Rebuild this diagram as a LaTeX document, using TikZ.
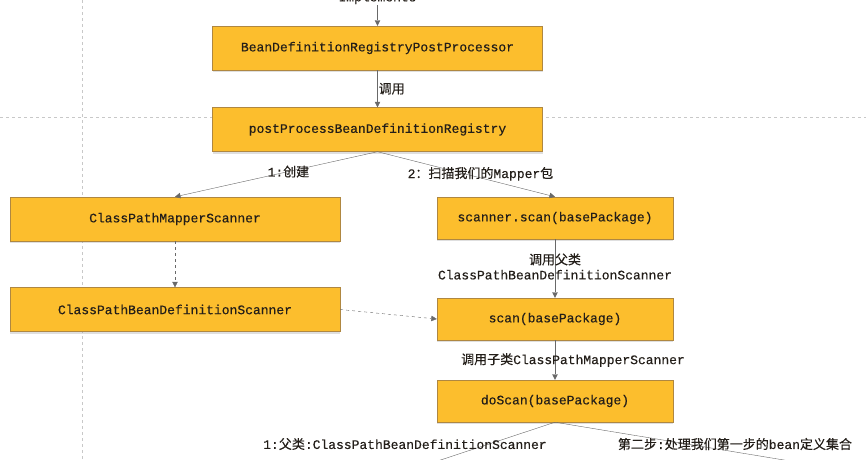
\documentclass[tikz,border=0pt]{standalone}
\usepackage{fontspec}
\setmonofont{Liberation Mono}[FakeBold=0.35]
\newfontfamily\cnfont{Noto Sans CJK SC}[FakeBold=0.25]
\definecolor{boxfill}{RGB}{252,190,45}
\definecolor{boxline}{RGB}{175,135,65}
\definecolor{flowgray}{RGB}{105,105,105}
\definecolor{guidegray}{RGB}{200,200,200}
\definecolor{txtdark}{RGB}{35,30,25}
\usetikzlibrary{arrows.meta,positioning,shadows}

\begin{document}
\begin{tikzpicture}[x=1pt,y=-1pt,
  box/.style={draw=boxline, fill=boxfill, minimum width=330pt, minimum height=44pt,
    font=\ttfamily\fontsize{13}{15}\selectfont, text=txtdark,
    drop shadow={shadow xshift=0pt, shadow yshift=-2pt, opacity=0.25, fill=black!50}},
  smallbox/.style={box, minimum width=236pt, minimum height=42pt},
  lbl/.style={font=\ttfamily\fontsize{13}{15}\selectfont, text=txtdark, inner sep=1pt},
  flow/.style={draw=flowgray, -{Triangle[length=5.5pt,width=5.5pt]}},
  weak/.style={flow, dashed},
  guide/.style={draw=guidegray, dashed, thin}]
  \useasboundingbox (0,0) rectangle (866,459);
  \clip (0,0) rectangle (866,459);

  %% page guides
  \draw[guide] (0,117) -- (866,117);
  \draw[guide] (82,0) -- (82,459);

  %% registry post processor chain
  \node[lbl] (impl) at (377.5,-2) {Implements};
  \node[box] (iface) at (377.5,48) {BeanDefinitionRegistryPostProcessor};
  \node[box] (reg) at (377.5,129.5) {postProcessBeanDefinitionRegistry};

  \draw[flow] (impl) -- (iface);
  \draw[flow] (iface) -- node[lbl, right, pos=0.5] {\cnfont 调用} (reg);

  %% scanner classes
  \node[box] (mapper) at (175,219) {ClassPathMapperScanner};
  \node[box] (parent) at (175,309.5) {ClassPathBeanDefinitionScanner};

  %% scan calls
  \node[smallbox] (scanpkg) at (555,218) {scanner.scan(basePackage)};
  \node[smallbox] (scan) at (555,319) {scan(basePackage)};
  \node[smallbox] (doscan) at (555,401) {doScan(basePackage)};

  \draw[flow] (reg.south) -- node[lbl, pos=0.44] {1:{\cnfont 创建}} (mapper.north);
  \draw[flow] (reg.south) -- node[lbl, pos=0.58, yshift=4pt] {2{\cnfont ：扫描我们的}Mapper{\cnfont 包}} (scanpkg.north);

  \draw[weak] (mapper) -- (parent);
  \draw[weak] (parent.east) -- (scan.west);

  \draw[flow] (scanpkg) -- node[lbl, align=center, yshift=2pt] {{\cnfont 调用父类}\\ClassPathBeanDefinitionScanner} (scan);
  \draw[flow] (scan) -- node[lbl, xshift=18pt] {{\cnfont 调用子类}ClassPathMapperScanner} (doscan);

  %% doScan branches
  \coordinate (stepone) at (380,480);
  \coordinate (steptwo) at (905,480);
  \draw[flow] (doscan.south) -- (stepone);
  \draw[flow] (doscan.south) -- (steptwo);
  \node[lbl] (onelbl) at (405,444) {1:{\cnfont 父类}:ClassPathBeanDefinitionScanner};
  \node[lbl] (twolbl) at (735,444) {{\cnfont 第二步}:{\cnfont 处理我们第一步的}bean{\cnfont 定义集合}};
\end{tikzpicture}
\end{document}
